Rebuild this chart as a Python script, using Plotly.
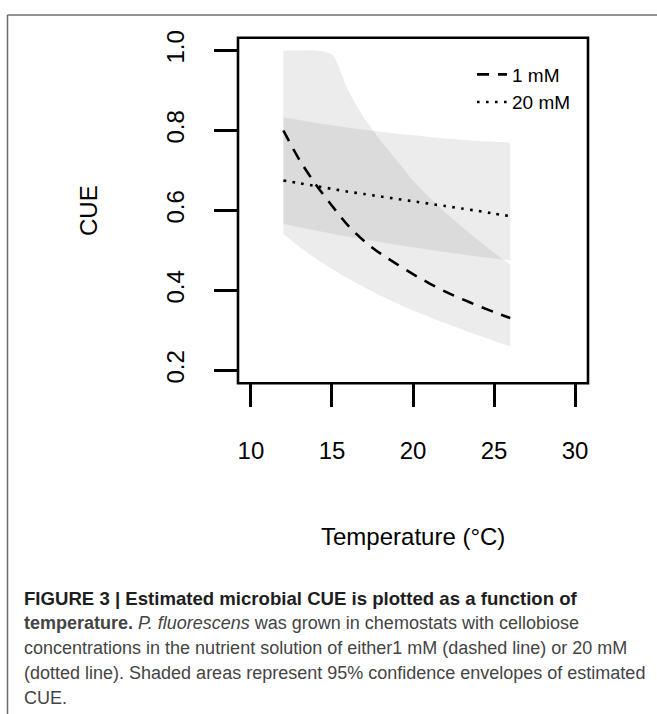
import plotly.graph_objects as go

# ---------------- data ----------------
temps = [12, 13, 14, 15, 16, 17, 18, 19, 20, 21, 22, 23, 24, 25, 26]

cue_1mM = [0.800, 0.726, 0.665, 0.612, 0.562, 0.523, 0.492, 0.466, 0.441, 0.418,
           0.397, 0.379, 0.362, 0.346, 0.331]
upper_1mM = [1.000, 1.000, 1.000, 0.990, 0.900, 0.830, 0.775, 0.725, 0.675, 0.633,
             0.595, 0.560, 0.527, 0.495, 0.465]
lower_1mM = [0.541, 0.509, 0.480, 0.454, 0.430, 0.408, 0.387, 0.368, 0.350, 0.334,
             0.318, 0.303, 0.288, 0.274, 0.261]

cue_20mM = [0.675, 0.668, 0.661, 0.654, 0.647, 0.641, 0.635, 0.629, 0.623, 0.617,
            0.611, 0.605, 0.599, 0.592, 0.586]
upper_20mM = [0.833, 0.826, 0.819, 0.813, 0.807, 0.802, 0.797, 0.792, 0.788, 0.784,
              0.780, 0.777, 0.774, 0.772, 0.770]
lower_20mM = [0.567, 0.558, 0.550, 0.542, 0.535, 0.528, 0.521, 0.514, 0.508, 0.502,
              0.496, 0.490, 0.485, 0.480, 0.475]

series_names = ["1 mM", "20 mM"]
x_ticks = [10, 15, 20, 25, 30]
x_tick_labels = ["10", "15", "20", "25", "30"]
y_ticks = [0.2, 0.4, 0.6, 0.8, 1.0]
y_tick_labels = ["0.2", "0.4", "0.6", "0.8", "1.0"]

x_title = "Temperature (°C)"
y_title = "CUE"
caption_lines = [
    "<b>FIGURE 3 | Estimated microbial CUE is plotted as a function of</b>",
    "<b>temperature.</b> <i>P. fluorescens</i> was grown in chemostats with cellobiose",
    "concentrations in the nutrient solution of either1 mM (dashed line) or 20 mM",
    "(dotted line). Shaded areas represent 95% confidence envelopes of estimated",
    "CUE.",
]

# ---------------- layout geometry ----------------
W, H = 657, 714
BOX_L, BOX_R, BOX_T, BOX_B = 238, 588, 31, 380
FONT = "Liberation Sans, Arial, Helvetica, sans-serif"
band_color = "rgba(128,128,128,0.15)"


def px(x):
    return x / W


def py(y):
    return 1 - y / H


fig = go.Figure()

# confidence envelopes
for lo, hi in [(lower_1mM, upper_1mM), (lower_20mM, upper_20mM)]:
    fig.add_trace(go.Scatter(x=temps, y=lo, mode="lines",
                             line=dict(width=0, shape="spline", smoothing=0.8),
                             hoverinfo="skip", showlegend=False))
    fig.add_trace(go.Scatter(x=temps, y=hi, mode="lines", fill="tonexty",
                             fillcolor=band_color,
                             line=dict(width=0, shape="spline", smoothing=0.8),
                             hoverinfo="skip", showlegend=False))

# estimate lines
fig.add_trace(go.Scatter(x=temps, y=cue_1mM, mode="lines", name=series_names[0],
                         line=dict(color="black", width=2.6, dash="12px,9px",
                                   shape="spline", smoothing=0.8)))
fig.add_trace(go.Scatter(x=temps, y=cue_20mM, mode="lines", name=series_names[1],
                         line=dict(color="black", width=2.6, dash="2.6px,6.4px",
                                   shape="spline", smoothing=0.8)))

fig.update_layout(
    width=W, height=H,
    margin=dict(l=0, r=0, t=0, b=0),
    paper_bgcolor="white", plot_bgcolor="white",
    font=dict(family=FONT, color="black"),
    showlegend=True,
    legend=dict(x=px(472), y=py(49), xanchor="left", yanchor="top",
                traceorder="normal",
                bgcolor="rgba(0,0,0,0)", borderwidth=0,
                font=dict(size=19, family=FONT, color="black"),
                itemwidth=30, tracegroupgap=0),
    xaxis=dict(domain=[px(BOX_L), px(BOX_R)], range=[9.2, 30.8],
               showgrid=False, zeroline=False, showline=False,
               tickmode="array", tickvals=x_ticks, ticktext=x_tick_labels,
               ticks="outside", ticklen=23, tickwidth=2.5, tickcolor="black",
               tickfont=dict(size=24, family=FONT, color="black"),
               ticklabelstandoff=23),
    yaxis=dict(domain=[py(BOX_B), py(BOX_T)], range=[0.168, 1.032],
               showgrid=False, zeroline=False, showline=False,
               tickmode="array", tickvals=y_ticks, ticktext=y_tick_labels,
               ticks="outside", ticklen=23, tickwidth=2.5, tickcolor="black",
               tickangle=-90,
               tickfont=dict(size=24, family=FONT, color="black"),
               ticklabelstandoff=20),
)

# plot box
fig.add_shape(type="rect", xref="paper", yref="paper",
              x0=px(BOX_L), x1=px(BOX_R), y0=py(BOX_B), y1=py(BOX_T),
              line=dict(color="black", width=2.6), layer="above")

# outer figure frame (top and left)
fig.add_shape(type="line", xref="paper", yref="paper",
              x0=px(7.5), x1=1, y0=py(8), y1=py(8),
              line=dict(color="#6e6e6e", width=1.5))
fig.add_shape(type="line", xref="paper", yref="paper",
              x0=px(7.5), x1=px(7.5), y0=0, y1=py(8),
              line=dict(color="#6e6e6e", width=1.5))

# axis titles
fig.add_annotation(text=y_title, xref="paper", yref="paper",
                   x=px(89), y=py(206), textangle=-90, showarrow=False,
                   xanchor="center", yanchor="middle",
                   font=dict(size=24, family=FONT, color="black"))
fig.add_annotation(text=x_title, xref="paper", yref="paper",
                   x=px(413), y=py(535), showarrow=False,
                   xanchor="center", yanchor="middle",
                   font=dict(size=24, family=FONT, color="black"))

# caption
cap_y = [597, 622, 647, 673, 698]
cap_size = [18.6, 18, 18, 18, 18]
for i, (line, yy) in enumerate(zip(caption_lines, cap_y)):
    color = "#1e1e1e" if i == 0 else "#444444"
    fig.add_annotation(text=line, xref="paper", yref="paper",
                       x=px(22), y=py(yy), showarrow=False,
                       xanchor="left", yanchor="middle",
                       font=dict(size=cap_size[i], family=FONT, color=color))

fig.write_html("out.html")
